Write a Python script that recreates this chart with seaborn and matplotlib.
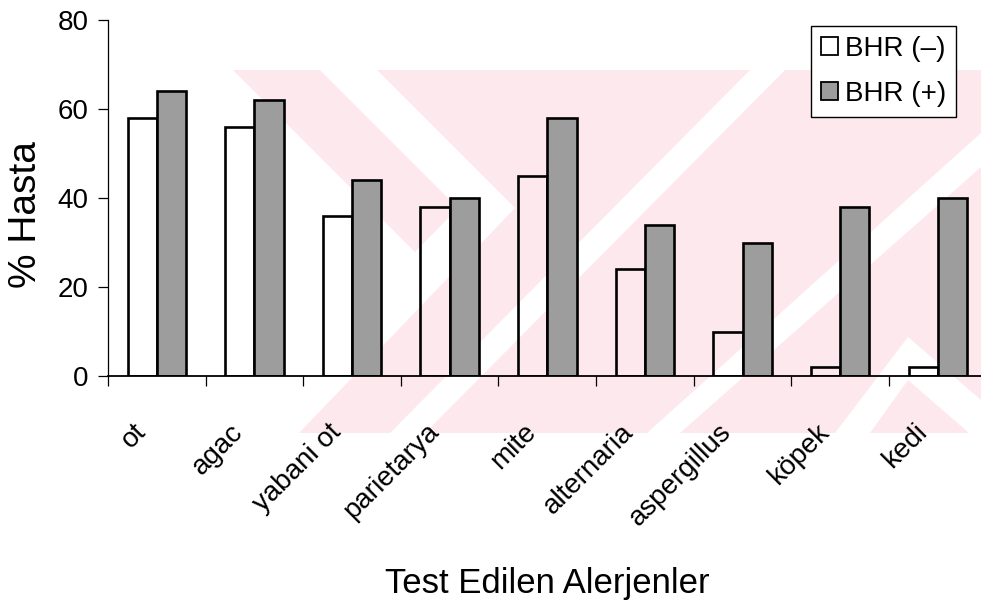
import matplotlib
matplotlib.use("Agg")
import matplotlib.pyplot as plt
from matplotlib import font_manager
from matplotlib.patches import Polygon, Rectangle
from matplotlib.transforms import ScaledTranslation
import numpy as np
import pandas as pd
import seaborn as sns

# Data
allergens = ["ot", "agac", "yabani ot", "parietarya", "mite",
             "alternaria", "aspergillus", "köpek", "kedi"]
bhr_neg = [58, 56, 36, 38, 45, 24, 10, 2, 2]
bhr_pos = [64, 62, 44, 40, 58, 34, 30, 38, 40]
groups = ["BHR (–)", "BHR (+)"]
yticks = [0, 20, 40, 60, 80]

df = pd.DataFrame({
    "Alerjen": allergens * 2,
    "Grup": [groups[0]] * len(allergens) + [groups[1]] * len(allergens),
    "Yuzde": bhr_neg + bhr_pos,
})

sns.set_theme(style="white")
plt.rcParams["font.family"] = ["Liberation Sans", "DejaVu Sans"]

W, H = 981, 610
fig = plt.figure(figsize=(W / 100, H / 100), dpi=100)
fig.patch.set_facecolor("white")


def px(pts):
    """Pixel coordinates (origin top-left) -> figure fraction."""
    return [(x / W, 1 - y / H) for x, y in pts]


def fig_poly(pts, color):
    fig.add_artist(Polygon(px(pts), closed=True, transform=fig.transFigure,
                           fc=color, ec="none", zorder=-10))


# Faint pink background emblem
PINK = "#fde9ed"
fig_poly([(232, 70), (981, 70), (981, 433), (232, 433)], PINK)
fig_poly([(232, 70), (377, 70), (515, 208), (299, 433), (232, 433)], "white")
fig_poly([(233, 70), (320, 70), (458, 208), (415, 252)], PINK)
fig_poly([(750, 70), (785, 70), (425, 433), (390, 433)], "white")
fig_poly([(647, 433), (981, 133), (981, 167), (680, 433)], "white")
fig_poly([(835, 433), (908, 337), (981, 400), (981, 433), (969, 433),
          (908, 380), (870, 433)], "white")

# Axes area
x0, x1, y0, y1 = 108, 986.6, 376, 20
ax = fig.add_axes([x0 / W, 1 - y0 / H, (x1 - x0) / W, (y0 - y1) / H])
ax.set_facecolor("none")

bar_colors = ["white", "#9d9d9d"]
sns.barplot(data=df, x="Alerjen", y="Yuzde", hue="Grup", order=allergens,
            hue_order=groups, palette=bar_colors, edgecolor="black",
            linewidth=1.9, width=0.6, saturation=1, errorbar=None,
            legend=False, ax=ax)
for bar in ax.containers[0]:
    bar.set_facecolor("none")

ax.set_xlim(-0.5, 8.5)
ax.set_ylim(0, 80)
ax.set_yticks(yticks)
ax.set_yticklabels([str(v) for v in yticks], fontsize=20)

for side in ("top", "right"):
    ax.spines[side].set_visible(False)
ax.spines["left"].set_linewidth(0.9)
ax.spines["bottom"].set_linewidth(1.3)
for side in ("left", "bottom"):
    ax.spines[side].set_color("black")

ax.tick_params(axis="y", left=True, direction="out", length=7, width=0.9,
               pad=7, colors="black")
ax.set_xticks(range(len(allergens)))
ax.set_xticklabels(allergens, rotation=45, ha="right", va="baseline",
                   rotation_mode="anchor", fontsize=20)
ax.set_xticks(np.arange(-0.5, len(allergens), 1.0), minor=True)
ax.tick_params(axis="x", which="major", bottom=True, length=0, pad=41,
               colors="black")
ax.tick_params(axis="x", which="minor", bottom=True, direction="out",
               length=7, width=0.9, color="black")

shift = ScaledTranslation(-10 / 100, 0, fig.dpi_scale_trans)
for lbl in ax.get_xticklabels():
    lbl.set_transform(lbl.get_transform() + shift)

# Axis titles
names = {f.name for f in font_manager.fontManager.ttflist}
if "Liberation Sans Narrow" in names:
    xl_family, xl_size = ["Liberation Sans Narrow", "Liberation Sans"], 29
else:
    xl_family, xl_size = ["Liberation Sans", "DejaVu Sans"], 25
ax.set_xlabel("Test Edilen Alerjenler", fontsize=xl_size, family=xl_family)
ax.xaxis.set_label_coords(0.5, (y0 - 583) / (y0 - y1))
ax.xaxis.label.set_va("center")
ax.set_ylabel("% Hasta", fontsize=28)
ax.yaxis.set_label_coords((26 - x0) / (x1 - x0), (y0 - 215) / (y0 - y1))
ax.yaxis.label.set_va("center")
ax.yaxis.label.set_ha("center")

# Legend
handles = [Rectangle((0, 0), 1, 1, fc="white", ec="black", lw=1.3),
           Rectangle((0, 0), 1, 1, fc=bar_colors[1], ec="black", lw=1.3)]
leg = fig.legend(handles, groups, loc="upper right",
                 bbox_to_anchor=(956 / W, 1 - 26 / H),
                 bbox_transform=fig.transFigure, fontsize=20,
                 frameon=True, fancybox=False, framealpha=1,
                 edgecolor="black", facecolor="white",
                 handlelength=0.62, handleheight=0.62, handletextpad=0.25,
                 borderpad=0.35, labelspacing=0.7, borderaxespad=0)
leg.get_frame().set_linewidth(1.0)
for t in leg.get_texts():
    t.set_color("black")
for t in ax.get_xticklabels() + ax.get_yticklabels():
    t.set_color("black")
ax.xaxis.label.set_color("black")
ax.yaxis.label.set_color("black")

fig.savefig("out.png", dpi=100)
